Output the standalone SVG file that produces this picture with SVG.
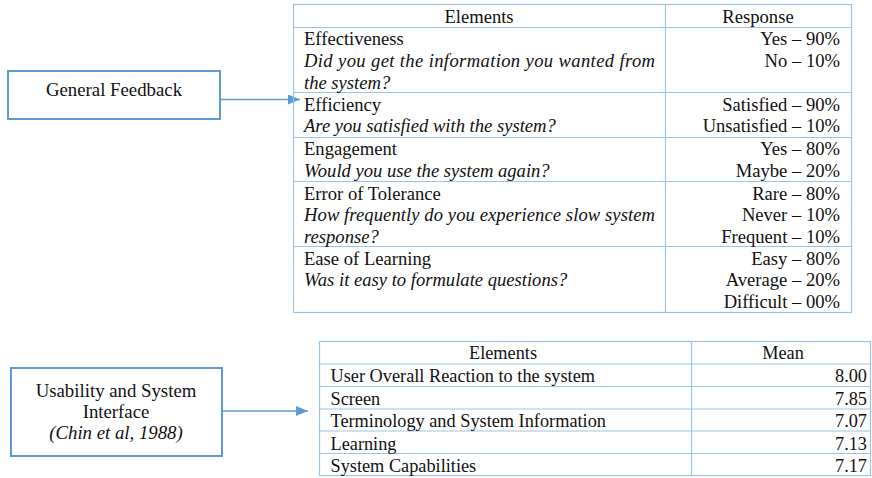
<svg xmlns="http://www.w3.org/2000/svg" width="872" height="478" viewBox="0 0 872 478">
  <style>
    text { font-family: "Liberation Serif", "Times New Roman", serif; font-size: 18.6px; fill: #111; }
    .it { font-style: italic; }
    .mid { text-anchor: middle; }
    .end { text-anchor: end; }
    .lbl { font-size: 18.8px; }
    .small { font-size: 18.3px; }
    .box { fill: #fff; stroke: #5B9BD5; stroke-width: 2; }
    .grid { stroke: #9DC3E6; stroke-width: 1.2; fill: none; }
    .conn { stroke: #5B9BD5; stroke-width: 1.3; fill: none; }
  </style>
  <defs>
    <marker id="arrow" markerUnits="userSpaceOnUse" markerWidth="12" markerHeight="10" refX="12" refY="5" orient="auto">
      <path d="M0,0 L12,5 L0,10 Z" fill="#5B9BD5"/>
    </marker>
  </defs>
  <rect width="872" height="478" fill="#fff"/>

  <!-- connectors -->
  <g id="connectors">
    <line class="conn" x1="220" y1="99.5" x2="300" y2="99.5" marker-end="url(#arrow)"/>
    <line class="conn" x1="222" y1="411" x2="308" y2="411" marker-end="url(#arrow)"/>
  </g>

  <!-- source boxes -->
  <g id="general-feedback">
    <rect class="box" x="8" y="71" width="212" height="48"/>
    <text class="mid lbl" x="114" y="95.5">General Feedback</text>
  </g>
  <g id="usability">
    <rect class="box" x="11" y="368" width="211" height="88"/>
    <text class="mid lbl" x="116" y="397">Usability and System</text>
    <text class="mid lbl" x="116" y="418">Interface</text>
    <text class="mid it lbl" x="116" y="439">(Chin et al, 1988)</text>
  </g>

  <!-- feedback table -->
  <g id="feedback-table">
    <rect class="grid" x="293.5" y="4.5" width="558" height="308"/>
    <line class="grid" x1="665.5" y1="4.5" x2="665.5" y2="312.5"/>
    <line class="grid" x1="293.5" y1="27.5" x2="851.5" y2="27.5"/>
    <line class="grid" x1="293.5" y1="92.5" x2="851.5" y2="92.5"/>
    <line class="grid" x1="293.5" y1="137.5" x2="851.5" y2="137.5"/>
    <line class="grid" x1="293.5" y1="181.5" x2="851.5" y2="181.5"/>
    <line class="grid" x1="293.5" y1="246.5" x2="851.5" y2="246.5"/>

    <text class="mid" x="479" y="22.5">Elements</text>
    <text class="mid" x="758" y="22.5">Response</text>

    <text x="304" y="45">Effectiveness</text>
    <text class="it" x="304" y="67" textLength="351" lengthAdjust="spacing">Did you get the information you wanted from</text>
    <text class="it" x="304" y="88.5">the system?</text>
    <text class="end" x="840" y="45">Yes – 90%</text>
    <text class="end" x="840" y="67">No – 10%</text>

    <text x="304" y="110.5">Efficiency</text>
    <text class="it" x="304" y="132">Are you satisfied with the system?</text>
    <text class="end" x="840" y="110.5">Satisfied – 90%</text>
    <text class="end" x="840" y="132">Unsatisfied – 10%</text>

    <text x="304" y="155">Engagement</text>
    <text class="it" x="304" y="176.5">Would you use the system again?</text>
    <text class="end" x="840" y="155">Yes – 80%</text>
    <text class="end" x="840" y="176.5">Maybe – 20%</text>

    <text x="304" y="199.5">Error of Tolerance</text>
    <text class="it" x="304" y="221" textLength="351" lengthAdjust="spacing">How frequently do you experience slow system</text>
    <text class="it" x="304" y="242.5">response?</text>
    <text class="end" x="840" y="199.5">Rare – 80%</text>
    <text class="end" x="840" y="221">Never – 10%</text>
    <text class="end" x="840" y="242.5">Frequent – 10%</text>

    <text x="304" y="264.5">Ease of Learning</text>
    <text class="it" x="304" y="286">Was it easy to formulate questions?</text>
    <text class="end" x="840" y="264.5">Easy – 80%</text>
    <text class="end" x="840" y="286">Average – 20%</text>
    <text class="end" x="840" y="307.5">Difficult – 00%</text>
  </g>

  <!-- usability table -->
  <g id="usability-table">
    <rect class="grid" x="319.5" y="341.5" width="551" height="134"/>
    <line class="grid" x1="691.5" y1="341.5" x2="691.5" y2="475.5"/>
    <line class="grid" x1="319.5" y1="364" x2="870.5" y2="364"/>
    <line class="grid" x1="319.5" y1="386.5" x2="870.5" y2="386.5"/>
    <line class="grid" x1="319.5" y1="409" x2="870.5" y2="409"/>
    <line class="grid" x1="319.5" y1="431" x2="870.5" y2="431"/>
    <line class="grid" x1="319.5" y1="453.5" x2="870.5" y2="453.5"/>

    <text class="mid small" x="503" y="358.5">Elements</text>
    <text class="mid small" x="783" y="358.5">Mean</text>

    <text class="small" x="330.5" y="382">User Overall Reaction to the system</text>
    <text class="end small" x="867" y="382">8.00</text>
    <text class="small" x="330.5" y="404.5">Screen</text>
    <text class="end small" x="867" y="404.5">7.85</text>
    <text class="small" x="330.5" y="427">Terminology and System Information</text>
    <text class="end small" x="867" y="427">7.07</text>
    <text class="small" x="330.5" y="449.5">Learning</text>
    <text class="end small" x="867" y="449.5">7.13</text>
    <text class="small" x="330.5" y="471.5">System Capabilities</text>
    <text class="end small" x="867" y="471.5">7.17</text>
  </g>
</svg>
